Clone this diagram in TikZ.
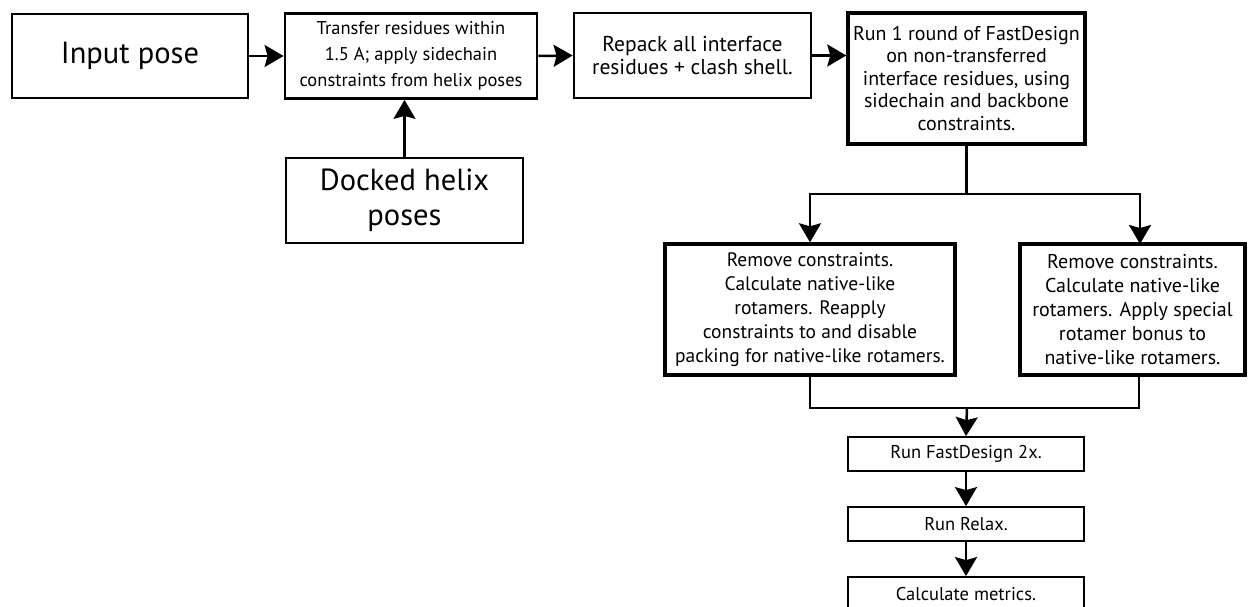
\documentclass[tikz,border=0pt]{standalone}
\usepackage{fontspec}
\setmainfont{PT Sans}
\usetikzlibrary{arrows.meta}
\tikzset{
  boxbase/.style={draw=black, fill=white, align=center, inner sep=0pt, anchor=center},
  bigbox/.style={boxbase, line width=2.8pt, font=\fontsize{30.5}{35}\selectfont},
  midbox/.style={boxbase, line width=2.8pt},
  thickbox/.style={boxbase, line width=3.4pt},
  smallbox/.style={boxbase, line width=1.8pt, font=\fontsize{18.5}{22}\selectfont},
  conn/.style={line width=2.5pt},
  flow/.style={conn, -{Stealth[length=19pt, width=22pt, inset=3pt]}},
}
\begin{document}
\begin{tikzpicture}[x=1pt, y=-1pt]
\clip (0,0) rectangle (1248,607);
\fill[white] (0,0) rectangle (1248,607);
% top row
\node[bigbox, minimum width=236pt, minimum height=84pt] (inp) at (130,56) {Input pose};
\node[midbox, minimum width=252pt, minimum height=85pt, font=\fontsize{18.5}{26}\selectfont] (trans) at (411,56) {Transfer residues within\\1.5 A; apply sidechain\\constraints from helix poses};
\node[bigbox, minimum width=237pt, minimum height=85pt] (dock) at (404.5,200.5) {Docked helix\\poses};
\node[midbox, minimum width=237pt, minimum height=85pt, font=\fontsize{21.5}{23.5}\selectfont] (rep) at (692.5,55.5) {Repack all interface\\residues + clash shell.};
\node[thickbox, minimum width=237pt, minimum height=131pt, font=\fontsize{20}{22.5}\selectfont] (run1) at (966.5,78.5) {Run 1 round of FastDesign\\on non-transferred\\interface residues, using\\sidechain and backbone\\constraints.};
% branch boxes
\node[thickbox, minimum width=290pt, minimum height=131pt, font=\fontsize{19.5}{24}\selectfont] (lbox) at (810,309.5) {Remove constraints.\\Calculate native-like\\rotamers. Reapply\\constraints to and disable\\packing for native-like rotamers.};
\node[thickbox, minimum width=225pt, minimum height=131pt, font=\fontsize{20}{24}\selectfont] (rbox) at (1132.5,309.5) {Remove constraints.\\Calculate native-like\\rotamers. Apply special\\rotamer bonus to\\native-like rotamers.};
% bottom chain
\node[smallbox, minimum width=236pt, minimum height=34pt] (fd) at (966,454) {Run FastDesign 2x.};
\node[smallbox, minimum width=236pt, minimum height=34pt] (rlx) at (966,524) {Run Relax.};
\node[smallbox, minimum width=236pt, minimum height=34pt] (met) at (966,594) {Calculate metrics.};
% junction coordinates
\coordinate (j1) at (966.5,194);
\coordinate (rin) at (1140,244);
\coordinate (rout) at (1139,375);
\coordinate (j2) at (967,408);
% connectors
\draw[flow] (inp.east) -- (trans.west);
\draw[flow] (dock.north) -- (dock.north |- trans.south);
\draw[flow] (trans.east) -- (rep.west);
\draw[flow] (rep.east) -- (rep.east -| run1.west);
\draw[conn] (run1.south) -- (j1);
\draw[flow] (j1) -| (lbox.north);
\draw[flow] (j1) -| (rin);
\draw[conn] (lbox.south) |- (j2);
\draw[conn] (rout) |- (j2);
\draw[flow] (j2) -- (fd.north);
\draw[flow] (fd.south) -- (rlx.north);
\draw[flow] (rlx.south) -- (met.north);
\end{tikzpicture}
\end{document}
